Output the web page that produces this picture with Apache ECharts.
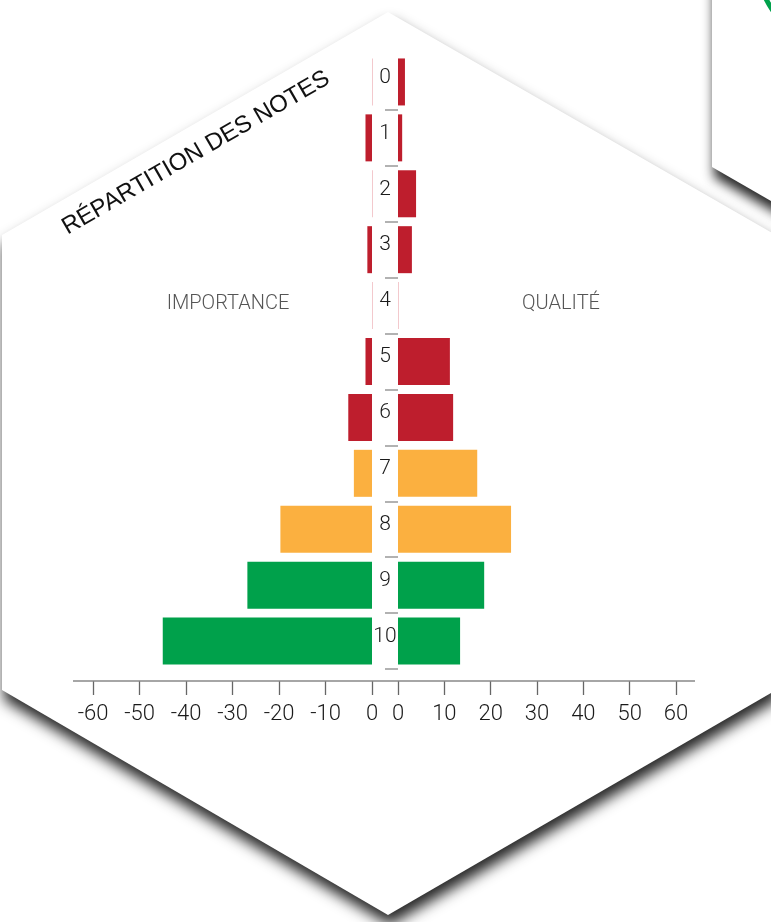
<!DOCTYPE html>
<html>
<head>
<meta charset="utf-8">
<title>Répartition des notes</title>
<script src="https://cdn.jsdelivr.net/npm/echarts@6/dist/echarts.min.js"></script>
<style>
    html, body { margin: 0; padding: 0; background: #fff; }
    #main { width: 771px; height: 922px; }
</style>
</head>
<body>
<div id="main"></div>
<script>
// notes 0..10
var notes = ['0', '1', '2', '3', '4', '5', '6', '7', '8', '9', '10'];
// importance (drawn to the left)
var importance = [0, 1.4, 0, 1.0, 0, 1.4, 5.1, 3.9, 19.7, 26.8, 45.0];
// qualité (drawn to the right)
var qualite = [1.5, 0.9, 3.9, 3.0, 0, 11.2, 11.9, 17.1, 24.4, 18.6, 13.4];
var axisTicks = [0, 10, 20, 30, 40, 50, 60];

var RED = '#be1e2d', ORANGE = '#fbb040', GREEN = '#00a14b', PINK = '#f3c9cd';

function noteColor(params) {
    if (params.value === 0) return PINK;
    var i = params.dataIndex;
    if (i <= 6) return RED;
    if (i <= 8) return ORANGE;
    return GREEN;
}

var numFont = { fontFamily: 'Roboto', fontWeight: 300, fontSize: 22, color: '#1a1a1a' };

function valueAxis(gridIndex, inverse) {
    return {
        type: 'value',
        gridIndex: gridIndex,
        min: axisTicks[0],
        max: axisTicks[axisTicks.length - 1],
        interval: 10,
        inverse: inverse,
        position: 'bottom',
        offset: 12,
        splitLine: { show: false },
        axisLine: { show: false },
        axisTick: { show: true, length: 14, lineStyle: { color: '#666', width: 1.3 } },
        axisLabel: {
            margin: 22,
            fontFamily: numFont.fontFamily,
            fontWeight: numFont.fontWeight,
            fontSize: numFont.fontSize,
            color: numFont.color,
            formatter: function (v) { return (inverse && v !== 0) ? '-' + v : String(v); }
        }
    };
}

var myChart = echarts.init(document.getElementById('main'));

var option = {
    backgroundColor: '#fff',
    animation: false,
    graphic: [
        {   // main hexagon tile
            type: 'polygon', z: 0, silent: true,
            shape: { points: [[388, 12], [776, 235], [776, 690], [388, 915], [2, 690], [2, 235]] },
            style: { fill: '#fff', shadowBlur: 14, shadowOffsetX: 2, shadowOffsetY: 10, shadowColor: 'rgba(0,0,0,0.85)' }
        },
        {   // neighbour tile top-right
            type: 'polygon', z: 1, silent: true,
            shape: { points: [[712, -120], [712, 167], [1100, 391], [1100, -120]] },
            style: { fill: '#fff', shadowBlur: 12, shadowOffsetX: 2, shadowOffsetY: 10, shadowColor: 'rgba(0,0,0,0.85)' }
        },
        {
            type: 'circle', z: 2, silent: true,
            shape: { cx: 845, cy: -40, r: 88 },
            style: { fill: 'none', stroke: GREEN, lineWidth: 5 }
        },
        {   // bottom axis line
            type: 'line', z: 3, silent: true,
            shape: { x1: 73, y1: 681, x2: 695, y2: 681 },
            style: { stroke: '#888', lineWidth: 1.5 }
        },
        {
            type: 'text', z: 5, x: 196, y: 153, rotation: Math.PI / 6,
            style: {
                text: 'RÉPARTITION DES NOTES', align: 'center', verticalAlign: 'middle',
                fontFamily: 'Liberation Sans', fontSize: 24, fill: '#111'
            }
        },
        {
            type: 'text', z: 5, x: 228, y: 304,
            style: {
                text: 'IMPORTANCE', align: 'center', verticalAlign: 'middle',
                fontFamily: 'Roboto', fontWeight: 300, fontSize: 20, fill: '#555'
            }
        },
        {
            type: 'text', z: 5, x: 561, y: 304,
            style: {
                text: 'QUALITÉ', align: 'center', verticalAlign: 'middle',
                fontFamily: 'Roboto', fontWeight: 300, fontSize: 20, fill: '#555'
            }
        }
    ],
    grid: [
        { left: 93, right: 399, top: 54, height: 615 },
        { left: 398, right: 95, top: 54, height: 615 }
    ],
    xAxis: [valueAxis(0, true), valueAxis(1, false)],
    yAxis: [
        {
            type: 'category', gridIndex: 0, data: notes, inverse: true, position: 'right',
            axisLine: { show: false }, axisTick: { show: false }, axisLabel: { show: false }
        },
        {
            type: 'category', gridIndex: 1, data: notes, inverse: true, position: 'left',
            axisLine: { show: false },
            axisTick: {
                show: true, length: 13,
                interval: function (index) { return index > 0; },
                lineStyle: { color: '#999', width: 1.5 }
            },
            axisLabel: {
                margin: 13, align: 'center', verticalAlign: 'bottom', lineHeight: 9,
                fontFamily: numFont.fontFamily, fontWeight: numFont.fontWeight,
                fontSize: 21, color: numFont.color
            }
        }
    ],
    series: [
        {
            name: 'Importance', type: 'bar', xAxisIndex: 0, yAxisIndex: 0,
            data: importance, barWidth: 47, barMinHeight: 1, clip: false,
            itemStyle: { color: noteColor }
        },
        {
            name: 'Qualité', type: 'bar', xAxisIndex: 1, yAxisIndex: 1,
            data: qualite, barWidth: 47, barMinHeight: 1,
            itemStyle: { color: noteColor }
        }
    ]
};

myChart.setOption(option);
</script>
</body>
</html>
